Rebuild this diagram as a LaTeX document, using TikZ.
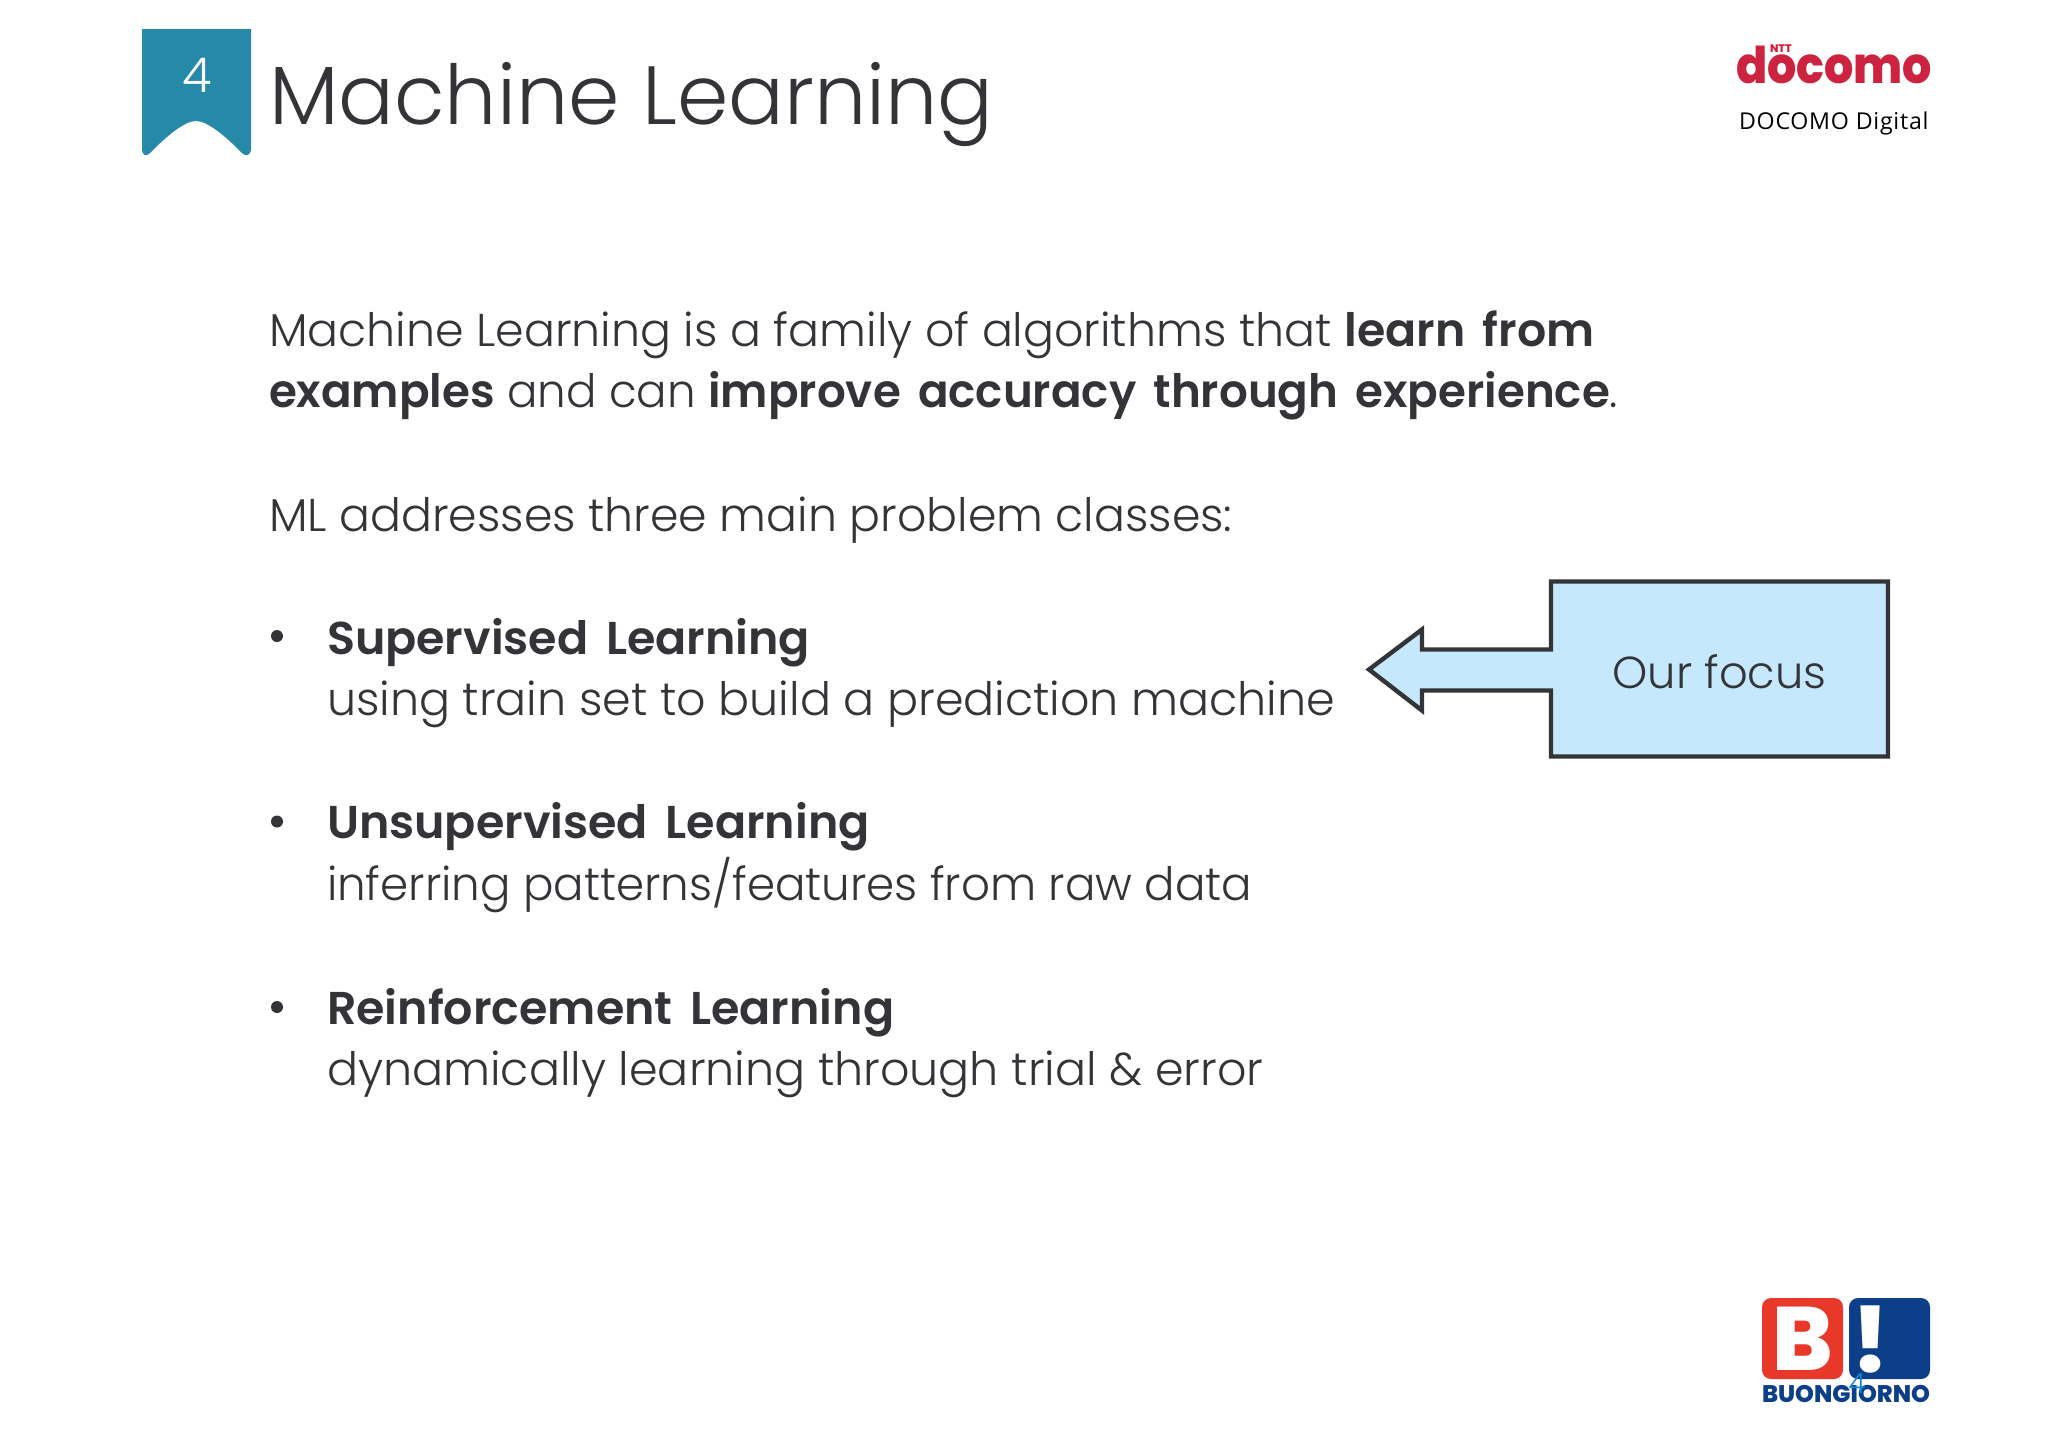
\documentclass[tikz,border=0pt]{standalone}
\usepackage{fontspec}
\setmainfont{Poppins}[UprightFont=* Light, BoldFont=* SemiBold, BoldFeatures={WordSpace=1.6}]
\newfontfamily\logofont{Poppins ExtraBold}
\newfontfamily\tagfont{Open Sans}[LetterSpace=3.2]
\usepackage{tikz}
\usetikzlibrary{
  positioning
}
\definecolor{inkgray}{HTML}{333438}
\definecolor{ribbonteal}{HTML}{2789A8}
\definecolor{focusblue}{HTML}{C5E8FD}
\definecolor{docomored}{HTML}{CC2340}
\definecolor{bgred}{HTML}{E8382A}
\definecolor{bgblue}{HTML}{0C3F88}
\tikzset{
  every node/.style={inner sep=0pt, outer sep=0pt, text=inkgray},
  textline/.style={anchor=base west, font=\fontsize{23}{27}\selectfont},
  titleline/.style={anchor=base west, font=\fontsize{41.3}{48}\selectfont},
  bulletdot/.style={circle, fill=inkgray, minimum size=6pt},
  focusbox/.style={minimum width=168.5pt, minimum height=87.5pt},
  focusline/.style={draw=inkgray, line width=2.2pt, fill=focusblue, miter limit=10},
  logobox/.style={minimum width=40.5pt, minimum height=40.5pt, rounded corners=4.5pt}
}

\begin{document}
\begin{tikzpicture}[x=0.5pt, y=-0.5pt]
    \useasboundingbox (0,0) rectangle (2048,1447);
    % ribbon and title
    \fill[ribbonteal] (142,29) -- (251,29) -- (251,148)
      .. controls (251,156) and (246,158) .. (240,151)
      .. controls (226,137) and (208,121) .. (196,121)
      .. controls (184,121) and (166,137) .. (152,151)
      .. controls (146,158) and (142,156) .. (142,148) -- cycle;
    \node[anchor=base, text=white, font=\fontsize{24}{24}\selectfont] (chapter) at (197,92) {4};
    \node[titleline] (title) at (269,124) {Machine Learning};
    % intro
    \node[textline] (intro1) at (269,346) {\scalebox{0.997}[1]{Machine Learning is a family of algorithms that \textbf{learn from}}};
    \node[textline] (intro2) at ([yshift=-30.8pt]intro1.base west) {\scalebox{0.982}[1]{\textbf{examples} and can \textbf{improve accuracy through experience}.}};
    \node[textline] (classes) at (269,531.5) {\scalebox{0.996}[1]{ML addresses three main problem classes:}};
    % the three classes
    \node[textline] (sup1) at (327,654) {\textbf{Supervised Learning}};
    \node[textline] (sup2) at ([yshift=-30.8pt]sup1.base west) {using train set to build a prediction machine};
    \node[textline] (uns1) at (327,838.5) {\textbf{Unsupervised Learning}};
    \node[textline] (uns2) at ([yshift=-30.8pt]uns1.base west) {\scalebox{0.982}[1]{inferring patterns/features from raw data}};
    \node[textline] (rei1) at (327,1024) {\textbf{Reinforcement Learning}};
    \node[textline] (rei2) at ([yshift=-30.8pt]rei1.base west) {dynamically learning through trial \& error};
    \node[bulletdot] (dot1) at (277,636) {};
    \node[bulletdot] (dot2) at (277,821.5) {};
    \node[bulletdot] (dot3) at (277,1007) {};
    % callout
    \node[focusbox] (focusarea) at (1719.5,669) {};
    \draw[focusline] (focusarea.north west) -- (focusarea.north east) -- (focusarea.south east)
      -- (focusarea.south west) -- ++(0,-66) -- ++(-129,0) -- ++(0,20) -- ++(-53,-41)
      -- ++(53,-40) -- ++(0,20) -- ++(129,0) -- cycle;
    \node[font=\fontsize{22.4}{25}\selectfont] (focus) at ([yshift=-1.5pt]focusarea.center) {Our focus};
    % docomo logo
    \node[anchor=base west, text=docomored, font=\logofont\fontsize{23}{23}\selectfont] (docomo) at (1736,83) {\scalebox{1}[1.1]{docomo}};
    \node[anchor=base west, text=docomored, font=\logofont\fontsize{5.5}{6}\selectfont] (ntt) at (1770,52) {NTT};
    \node[anchor=base west, text=black, font=\tagfont\fontsize{11.6}{12}\selectfont] (digital) at (1739,129) {DOCOMO Digital};
    % buongiorno logo
    \node[logobox, fill=bgred, anchor=north west] (bbox) at (1762,1298) {};
    \node[logobox, fill=bgblue, anchor=north west] (xbox) at (1849,1298) {};
    \node[text=white, font=\logofont\fontsize{45}{45}\selectfont] (bletter) at (bbox.center) {B};
    \node[text=white, font=\logofont\fontsize{45}{45}\selectfont] (xmark) at (1871,1339) {!};
    \node[anchor=base west, text=bgblue, font=\logofont\fontsize{12}{12}\selectfont] (buon) at (1762,1402) {BUONGIORNO};
    \node[anchor=base, text=cyan!70!blue, font=\fontsize{14}{14}\selectfont] (pagenum) at (1857,1393) {4};
\end{tikzpicture}
\end{document}
